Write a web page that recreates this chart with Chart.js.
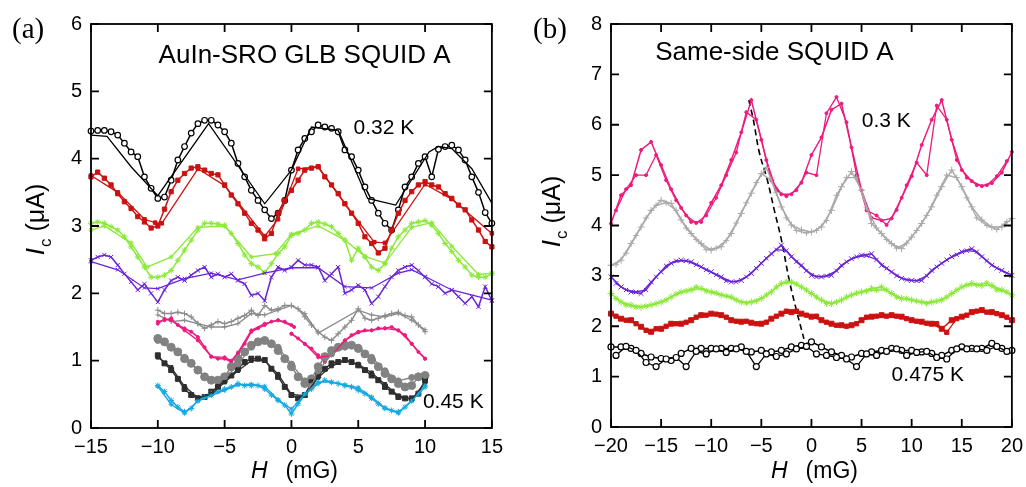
<!DOCTYPE html>
<html>
<head>
<meta charset="utf-8">
<script src="https://cdn.jsdelivr.net/npm/chart.js@4.4.1/dist/chart.umd.min.js"></script>
<style>
  html, body { margin: 0; background: #fff; overflow: hidden; }
  #wrap { position: relative; width: 1026px; height: 487px; overflow: hidden; }
  #chartA { position: absolute; left: 0; top: 0; }
  #chartB { position: absolute; left: 510px; top: 0; }
</style>
</head>
<body>
<div id="wrap">
  <canvas id="chartA" width="510" height="487"></canvas>
  <canvas id="chartB" width="520" height="487"></canvas>
</div>
<script>
// ---- panel (a): field values (mG) ----
const H_A = [-15,-14.5,-14,-13.5,-13,-12.5,-12,-11.5,-11,-10.5,-10,-9.5,-9,-8.5,-8,-7.5,-7,-6.5,-6,-5.5,-5,-4.5,-4,-3.5,-3,-2.5,-2,-1.5,-1,-0.5,0,0.5,1,1.5,2,2.5,3,3.5,4,4.5,5,5.5,6,6.5,7,7.5,8,8.5,9,9.5,10,10.5,11,11.5,12,12.5,13,13.5,14,14.5,15];
const H_A_SHORT = [-10,-9.5,-9,-8.5,-8,-7.5,-7,-6.5,-6,-5.5,-5,-4.5,-4,-3.5,-3,-2.5,-2,-1.5,-1,-0.5,0,0.5,1,1.5,2,2.5,3,3.5,4,4.5,5,5.5,6,6.5,7,7.5,8,8.5,9,9.5,10];
const H_A_INT = [-10,-9,-8,-7,-6,-5,-4,-3,-2,-1,0,1,2,3,4,5,6,7,8,9,10];

// Ic (uA), first sweeps
const A_BLACK = [4.41,4.42,4.42,4.40,4.35,4.23,4.10,4.03,3.73,3.56,3.41,3.43,3.68,3.98,4.18,4.38,4.52,4.57,4.57,4.50,4.40,4.23,3.93,3.73,3.53,3.38,3.24,3.11,3.19,3.38,3.83,4.13,4.30,4.40,4.50,4.47,4.45,4.40,4.13,4.03,3.83,3.58,3.38,3.19,3.04,2.94,3.24,3.58,3.73,3.93,4.03,3.73,4.14,4.18,4.20,4.13,3.98,3.73,3.50,3.20,3.04];
const A_RED = [3.73,3.80,3.71,3.61,3.48,3.36,3.26,3.14,3.06,2.97,3.00,3.25,3.51,3.68,3.78,3.86,3.88,3.83,3.78,3.76,3.61,3.46,3.33,3.19,3.04,2.94,2.81,2.89,3.19,3.38,3.53,3.68,3.83,3.86,3.88,3.73,3.61,3.48,3.33,3.19,3.04,2.84,2.74,2.60,2.67,2.94,3.19,3.38,3.51,3.61,3.66,3.61,3.58,3.48,3.41,3.31,3.24,3.09,2.94,2.77,2.69];
const A_GREEN = [3.04,3.06,3.04,2.99,2.94,2.84,2.69,2.54,2.39,2.24,2.24,2.27,2.34,2.49,2.64,2.79,2.94,3.04,3.04,3.03,3.01,2.89,2.74,2.57,2.44,2.39,2.31,2.44,2.59,2.69,2.86,2.89,2.94,3.04,3.06,3.03,2.99,2.89,2.79,2.49,2.67,2.54,2.39,2.34,2.44,2.67,2.84,2.94,3.04,3.06,3.08,3.01,2.89,2.74,2.62,2.49,2.39,2.27,2.24,2.24,2.29];
const A_PURPLE = [2.49,2.54,2.57,2.54,2.42,2.29,2.17,2.05,2.14,2.00,1.87,2.05,2.19,2.24,2.19,2.27,2.34,2.39,2.24,2.29,2.24,2.29,2.19,2.14,1.97,2.00,1.89,2.24,2.39,2.34,2.39,2.49,2.42,2.42,2.39,2.19,2.29,2.39,2.00,2.05,2.12,2.05,1.85,1.95,2.10,2.24,2.34,2.39,2.42,2.34,2.24,2.14,2.10,2.00,2.05,1.95,1.85,1.95,1.80,2.10,1.89];
const A_GRAY1 = [1.75,1.70,1.70,1.72,1.70,1.65,1.55,1.48,1.53,1.58,1.55,1.58,1.63,1.67,1.75,1.67,1.82,1.75,1.77,1.82,1.82,1.77,1.65,1.53,1.43,1.35,1.30,1.40,1.50,1.60,1.77,1.63,1.60,1.63,1.67,1.70,1.72,1.67,1.65,1.53,1.43];
const A_PINK_L = [1.58,1.60,1.63,1.53,1.48,1.43,1.35,1.20,1.06,1.03,1.03,0.98,1.10,1.25,1.43,1.48,1.53,1.58,1.60,1.58,1.53];
const A_PINK_R = [1.40,1.33,1.25,1.18,1.08,0.98,1.10,1.20,1.30,1.38,1.43,1.45,1.45,1.48,1.48,1.50,1.45,1.38,1.25,1.13,1.03];
const A_GRAY2 = [1.33,1.28,1.20,1.13,1.03,0.96,0.86,0.76,0.71,0.71,0.76,0.91,1.03,1.13,1.23,1.28,1.30,1.25,1.15,1.03,0.91,0.76,0.66,0.73,0.91,1.06,1.15,1.20,1.23,1.23,1.18,1.10,1.01,0.91,0.81,0.73,0.66,0.61,0.63,0.76,0.78];
const A_DARK = [1.08,0.96,0.86,0.73,0.58,0.49,0.44,0.46,0.54,0.61,0.71,0.78,0.88,0.98,1.03,1.03,1.01,0.88,0.76,0.61,0.49,0.44,0.49,0.68,0.78,0.88,0.96,0.98,1.01,0.98,0.93,0.86,0.78,0.71,0.61,0.54,0.46,0.44,0.44,0.51,0.71];
const A_CYAN = [0.63,0.54,0.41,0.31,0.24,0.29,0.41,0.46,0.51,0.54,0.58,0.61,0.66,0.63,0.63,0.63,0.58,0.49,0.41,0.34,0.21,0.36,0.49,0.58,0.66,0.71,0.68,0.66,0.63,0.61,0.56,0.51,0.44,0.36,0.29,0.26,0.24,0.31,0.41,0.51,0.61];

// second sweeps (sparser)
const A_BLACK2_H = [-15,-13.8,-12,-10,-6.2,-2,0,1.5,3.5,5.7,7.8,10.3,11,12,13.5,15];
const A_BLACK2 = [4.35,4.33,3.88,3.45,4.52,3.33,3.83,4.47,4.42,3.41,3.31,4.10,4.18,4.15,3.85,3.34];
const A_RED2_H = [-15,-13,-11,-10.2,-9.7,-7,-5,-2,-1,0.5,2,4,6.2,7,10,12,15];
const A_RED2 = [3.75,3.50,3.10,3.05,3.04,3.85,3.60,2.85,3.10,3.85,3.88,3.33,2.76,2.75,3.62,3.40,2.89];
const A_GREEN2_H = [-15,-14,-12,-10.8,-9,-7,-5,-3,-1.2,0,2,4,5.5,7,9,10.5,12,14,15];
const A_GREEN2 = [2.94,3.00,2.75,2.39,2.54,2.98,3.00,2.54,2.59,2.88,3.00,2.79,2.55,2.45,2.98,3.05,2.70,2.28,2.30];
const A_PURPLE2_H = [-15,-13,-11,-10,-8,-6,-4,-2,0,2,4,6,8,9,10,12,15];
const A_PURPLE2 = [2.47,2.35,2.08,2.07,2.22,2.30,2.20,2.30,2.38,2.38,2.10,2.08,2.30,2.35,2.25,2.05,1.90];
const A_GRAY1_2_H = [-10,-9,-8,-7,-6,-5,-4,-3,-2,-1,0,1,2,5,6,7,8,9,10];
const A_GRAY1_2 = [1.68,1.58,1.60,1.55,1.50,1.50,1.55,1.70,1.68,1.75,1.82,1.70,1.41,1.75,1.68,1.65,1.70,1.60,1.46];
const A_PINK2L_H = [-10,-9.5,-9,-8,-7,-6,-5,-4.5,-4,-3,-2,-1,0.2];
const A_PINK2L = [1.55,1.62,1.60,1.45,1.30,1.06,1.05,1.00,1.12,1.45,1.55,1.60,1.50];
const A_PINK2R_H = [0,1,2,3,4,5,6,7,8,9,10];
const A_PINK2R = [1.40,1.25,1.05,1.08,1.30,1.42,1.45,1.48,1.45,1.25,1.03];
const A_GRAY2_2_H = [-10,-8,-7,-6,-5,-4,-3,-2,-1,0,1,1.5,2,3,4,5,6,7,8,9,10];
const A_GRAY2_2 = [1.30,1.05,0.85,0.72,0.72,0.95,1.20,1.30,1.20,0.95,0.70,0.62,0.85,1.10,1.20,1.20,1.05,0.85,0.70,0.75,0.78];
const A_DARK2 = [1.05,0.90,0.62,0.45,0.50,0.68,0.85,1.00,1.00,0.80,0.50,0.48,0.75,0.92,1.00,0.95,0.82,0.65,0.48,0.42,0.68];
const A_CYAN2 = [0.62,0.35,0.22,0.40,0.48,0.56,0.64,0.65,0.62,0.42,0.28,0.50,0.68,0.68,0.64,0.60,0.46,0.30,0.22,0.40,0.63];

// ---- panel (b) ----
const H_B = [-20,-19,-18,-17,-16,-15,-14,-13,-12,-11,-10,-9,-8,-7,-6,-5,-4,-3,-2,-1,0,1,2,3,4,5,6,7,8,9,10,11,12,13,14,15,16,17,18,19,20];
const H_B_HALF = [-19.5,-18.5,-17.5,-16.5,-15.5,-14.5,-13.5,-12.5,-11.5,-10.5,-9.5,-8.5,-7.5,-6.5,-5.5,-4.5,-3.5,-2.5,-1.5,-0.5,0.5,1.5,2.5,3.5,4.5,5.5,6.5,7.5,8.5,9.5,10.5,11.5,12.5,13.5,14.5,15.5,16.5,17.5,18.5,19.5];

const B_PINK = [4.04,4.60,4.80,5.50,5.66,5.20,4.72,4.35,4.07,4.07,4.45,4.80,5.30,5.85,6.49,5.70,4.90,4.62,4.62,4.85,5.40,5.75,6.30,6.42,5.55,4.70,4.15,4.10,4.14,4.55,4.98,5.60,6.10,6.49,5.70,5.10,4.88,4.78,4.84,5.05,5.46];
const B_PINK2 = [4.30,4.72,5.00,5.00,5.40,4.90,4.50,4.20,4.05,4.20,4.55,5.00,5.45,6.25,6.10,5.30,4.70,4.58,4.70,5.05,5.00,6.23,6.55,6.05,5.00,4.30,4.20,4.01,4.31,4.80,5.25,5.00,6.38,6.10,5.30,4.95,4.80,4.80,4.98,5.28];
const B_GRAY = [3.21,3.31,3.64,3.97,4.30,4.50,4.44,4.11,3.84,3.64,3.51,3.58,3.84,4.24,4.64,5.03,4.90,4.37,4.01,3.91,3.87,3.97,4.30,4.77,5.07,4.70,4.04,3.84,3.64,3.54,3.77,4.04,4.37,4.77,5.10,4.77,4.37,4.11,3.97,3.97,4.14];
const B_GRAY2 = [3.22,3.45,3.80,4.15,4.40,4.45,4.30,3.95,3.72,3.52,3.55,3.70,4.05,4.45,4.85,5.15,4.65,4.15,3.90,3.85,3.90,4.10,4.60,4.95,4.95,4.35,3.95,3.72,3.55,3.65,3.90,4.20,4.60,5.00,4.95,4.55,4.15,4.00,3.92,4.08];
const B_PURPLE = [2.98,2.78,2.68,2.65,2.88,3.08,3.25,3.31,3.28,3.18,3.08,2.98,2.88,2.91,3.05,3.25,3.44,3.61,3.38,3.21,3.01,2.98,3.01,3.21,3.34,3.41,3.44,3.21,3.08,2.95,2.91,2.91,3.11,3.25,3.38,3.48,3.54,3.38,3.21,3.11,3.01];
const B_PURPLE2 = [2.85,2.72,2.68,2.72,2.98,3.20,3.30,3.30,3.22,3.12,3.02,2.90,2.88,2.98,3.15,3.35,3.52,3.50,3.28,3.10,2.98,3.00,3.10,3.28,3.38,3.40,3.32,3.15,3.00,2.92,2.90,3.00,3.18,3.32,3.42,3.50,3.48,3.30,3.15,3.05];
const B_GREEN = [2.65,2.48,2.42,2.38,2.42,2.48,2.58,2.68,2.72,2.75,2.68,2.62,2.58,2.48,2.48,2.55,2.68,2.85,2.88,2.78,2.65,2.52,2.45,2.52,2.62,2.68,2.75,2.78,2.65,2.55,2.52,2.48,2.48,2.52,2.65,2.78,2.85,2.81,2.81,2.72,2.62];
const B_GREEN2 = [2.55,2.42,2.38,2.40,2.45,2.52,2.64,2.70,2.78,2.70,2.66,2.60,2.52,2.46,2.50,2.62,2.78,2.88,2.84,2.72,2.58,2.45,2.48,2.58,2.66,2.70,2.72,2.72,2.58,2.55,2.50,2.45,2.50,2.58,2.72,2.82,2.82,2.86,2.72,2.68];
const B_RED = [2.25,2.15,2.12,1.99,1.89,1.95,2.05,2.05,2.12,2.22,2.25,2.22,2.12,2.09,2.07,2.05,2.15,2.25,2.28,2.25,2.19,2.12,2.05,2.02,2.02,2.12,2.19,2.22,2.22,2.19,2.12,2.09,2.05,1.95,2.12,2.19,2.28,2.32,2.28,2.22,2.12];
const B_RED2 = [2.20,2.12,2.05,1.92,1.95,2.00,2.05,2.08,2.18,2.22,2.24,2.18,2.10,2.10,2.05,2.08,2.20,2.30,2.30,2.22,2.20,2.08,2.02,2.00,2.05,2.18,2.20,2.20,2.20,2.15,2.10,2.06,2.05,1.88,2.15,2.22,2.30,2.28,2.25,2.18];
const B_BLACK = [1.59,1.59,1.56,1.46,1.39,1.36,1.32,1.46,1.56,1.56,1.56,1.56,1.56,1.59,1.49,1.52,1.49,1.52,1.59,1.62,1.69,1.59,1.49,1.42,1.39,1.46,1.49,1.52,1.56,1.52,1.52,1.49,1.46,1.42,1.52,1.59,1.56,1.56,1.66,1.56,1.52];
const B_BLACK2 = [1.42,1.60,1.52,1.28,1.20,1.35,1.38,1.20,1.50,1.45,1.55,1.48,1.55,1.50,1.20,1.45,1.40,1.45,1.55,1.60,1.45,1.42,1.38,1.35,1.20,1.45,1.42,1.50,1.55,1.42,1.48,1.50,1.38,1.35,1.55,1.55,1.55,1.52,1.60,1.50];

// dashed guide through the peaks
const DASH_H = [-6.25,-5.8,-5.2,-4.4,-3.7,-3.0,-2.2,-1.5,-0.75];
const DASH_V = [6.49,6.10,5.45,4.90,4.30,3.72,2.90,2.32,1.75];

const FONT = "'Liberation Sans', Arial, Helvetica, sans-serif";
const SERIF = "'Liberation Serif', 'Times New Roman', serif";

function pts(h, v) {
  return h.map((x, i) => ({ x: x, y: v[i] }));
}

function line(h, v, color, style, r, extra) {
  return Object.assign({
    data: pts(h, v),
    borderColor: color,
    backgroundColor: color,
    pointBorderColor: color,
    pointBackgroundColor: color,
    pointStyle: style,
    pointRadius: r,
    pointBorderWidth: 1,
    borderWidth: 1.5,
    tension: 0,
    clip: false
  }, extra || {});
}

const openCircle = { pointBackgroundColor: '#fff', pointBorderWidth: 1.2 };

// frame with inward ticks, titles and notes
function decorPlugin(cfg) {
  return {
    id: 'decor' + cfg.key,
    afterDatasetsDraw(chart) {
      const ctx = chart.ctx, a = chart.chartArea;
      const x = chart.scales.x, y = chart.scales.y;
      ctx.save();
      ctx.strokeStyle = '#000';
      ctx.lineWidth = 1.8;
      ctx.strokeRect(a.left, a.top, a.right - a.left, a.bottom - a.top);
      ctx.beginPath();
      y.ticks.forEach(t => {
        const py = y.getPixelForValue(t.value);
        ctx.moveTo(a.left, py); ctx.lineTo(a.left + 8, py);
        ctx.moveTo(a.right, py); ctx.lineTo(a.right - 8, py);
      });
      x.ticks.forEach(t => {
        const px = x.getPixelForValue(t.value);
        ctx.moveTo(px, a.bottom); ctx.lineTo(px, a.bottom - 8);
        ctx.moveTo(px, a.top); ctx.lineTo(px, a.top + 8);
      });
      ctx.stroke();

      ctx.fillStyle = '#000';
      ctx.textBaseline = 'middle';
      ctx.textAlign = 'left';
      ctx.font = '26px ' + FONT;
      ctx.fillText(cfg.title.text, x.getPixelForValue(cfg.title.h), y.getPixelForValue(cfg.title.v));
      ctx.font = '21px ' + FONT;
      cfg.notes.forEach(n => ctx.fillText(n.text, x.getPixelForValue(n.h), y.getPixelForValue(n.v)));

      // panel letter
      ctx.textBaseline = 'alphabetic';
      ctx.font = '29px ' + SERIF;
      ctx.fillText(cfg.letter, cfg.letterX, 38);

      // x title: H (mG)
      const gap = 18;
      ctx.font = 'italic 23px ' + FONT;
      const wH = ctx.measureText('H').width;
      ctx.font = '23px ' + FONT;
      const wR = ctx.measureText('(mG)').width;
      const sx = (a.left + a.right) / 2 + 3 - (wH + gap + wR) / 2;
      ctx.font = 'italic 23px ' + FONT;
      ctx.fillText('H', sx, 478);
      ctx.font = '23px ' + FONT;
      ctx.fillText('(mG)', sx + wH + gap, 478);

      // y title: Ic (uA)
      ctx.translate(a.left - cfg.yTitleOff, cfg.yTitleY);
      ctx.rotate(-Math.PI / 2);
      ctx.font = 'italic 26px ' + FONT;
      const wI = ctx.measureText('I').width;
      ctx.font = '17px ' + FONT;
      const wc = ctx.measureText('c').width;
      ctx.font = '25px ' + FONT;
      const wu = ctx.measureText('(\u03BCA)').width;
      const g2 = 7;
      let tx = -(wI + wc + g2 + wu) / 2;
      ctx.font = 'italic 26px ' + FONT;
      ctx.fillText('I', tx, 0);
      tx += wI + 1;
      ctx.font = '17px ' + FONT;
      ctx.fillText('c', tx, 7);
      tx += wc + g2;
      ctx.font = '25px ' + FONT;
      ctx.fillText('(\u03BCA)', tx, 0);
      ctx.restore();
    }
  };
}

function scalesFor(xmin, xmax, ymax, yWidth, xHeight) {
  const tickFont = { family: FONT, size: 20 };
  return {
    x: {
      type: 'linear', min: xmin, max: xmax,
      grid: { display: false, drawTicks: false },
      border: { display: false },
      ticks: {
        stepSize: 5, autoSkip: false, maxRotation: 0, padding: 7,
        color: '#000', font: tickFont,
        callback: v => String(v).replace('-', '\u2212')
      },
      afterFit: s => { s.height = xHeight; }
    },
    y: {
      min: 0, max: ymax,
      grid: { display: false, drawTicks: false },
      border: { display: false },
      ticks: { stepSize: 1, autoSkip: false, padding: 9, color: '#000', font: tickFont },
      afterFit: s => { s.width = yWidth; }
    }
  };
}

const baseOpts = {
  responsive: false,
  animation: false,
  events: [],
  plugins: { legend: { display: false }, tooltip: { enabled: false } }
};

// colours
const C_BLACK = '#000000', C_RED = '#cc1111', C_GREEN = '#8ce83a', C_PURPLE = '#6a24d6';
const C_GRAY1 = '#8c8c8c', C_PINK = '#ee1a7e', C_GRAY2 = '#828282', C_DARK = '#2e2e2e', C_CYAN = '#15a8e0';
const C_GRAYB = '#a9a9a9';

const thin = { borderWidth: 1.3 };

new Chart(document.getElementById('chartA'), {
  type: 'line',
  data: {
    datasets: [
      line(H_A_INT, A_CYAN2, C_CYAN, 'star', 2.5, thin),
      line(H_A_INT, A_DARK2, C_DARK, 'rect', 2.5, thin),
      line(A_GRAY2_2_H, A_GRAY2_2, C_GRAY2, 'circle', 3, thin),
      line(A_PINK2L_H, A_PINK2L, C_PINK, 'circle', 1.5, thin),
      line(A_PINK2R_H, A_PINK2R, C_PINK, 'circle', 1.5, thin),
      line(A_GRAY1_2_H, A_GRAY1_2, C_GRAY1, 'cross', 2.5, thin),
      line(A_PURPLE2_H, A_PURPLE2, C_PURPLE, 'crossRot', 2.5, thin),
      line(A_GREEN2_H, A_GREEN2, C_GREEN, 'star', 2.5, thin),
      line(A_RED2_H, A_RED2, C_RED, 'rect', 2.5, thin),
      line(A_BLACK2_H, A_BLACK2, C_BLACK, 'circle', 0, thin),
      line(H_A_SHORT, A_CYAN, C_CYAN, 'star', 3),
      line(H_A_SHORT, A_DARK, C_DARK, 'rect', 3.5),
      line(H_A_SHORT, A_GRAY2, C_GRAY2, 'circle', 4),
      line(H_A_SHORT.slice(0, 21), A_PINK_L, C_PINK, 'circle', 1.5),
      line(H_A_SHORT.slice(20), A_PINK_R, C_PINK, 'circle', 1.5),
      line(H_A_SHORT, A_GRAY1, C_GRAY1, 'cross', 3),
      line(H_A, A_PURPLE, C_PURPLE, 'crossRot', 3),
      line(H_A, A_GREEN, C_GREEN, 'star', 3),
      line(H_A, A_RED, C_RED, 'rect', 3),
      line(H_A, A_BLACK, C_BLACK, 'circle', 2.8, openCircle)
    ]
  },
  options: Object.assign({}, baseOpts, {
    layout: { padding: { left: 0, top: 24, right: 14, bottom: 0 } },
    scales: scalesFor(-15, 15, 6, 91, 59)
  }),
  plugins: [decorPlugin({
    key: 'A', letter: '(a)', letterX: 12, yTitleOff: 47, yTitleY: 220,
    title: { text: 'AuIn-SRO GLB SQUID A', h: -9.94, v: 5.53 },
    notes: [{ text: '0.32 K', h: 4.65, v: 4.45 }, { text: '0.45 K', h: 9.84, v: 0.38 }]
  })]
});

new Chart(document.getElementById('chartB'), {
  type: 'line',
  data: {
    datasets: [
      line(H_B_HALF, B_BLACK2, C_BLACK, 'circle', 3, Object.assign({}, openCircle, thin)),
      line(H_B_HALF, B_RED2, C_RED, 'rect', 3, thin),
      line(H_B_HALF, B_GREEN2, C_GREEN, 'star', 3, thin),
      line(H_B_HALF, B_PURPLE2, C_PURPLE, 'crossRot', 3, thin),
      line(H_B_HALF, B_GRAY2, C_GRAYB, 'cross', 3, thin),
      line(H_B_HALF, B_PINK2, C_PINK, 'circle', 1.5, thin),
      line(H_B, B_BLACK, C_BLACK, 'circle', 3, openCircle),
      line(H_B, B_RED, C_RED, 'rect', 3.5),
      line(H_B, B_GREEN, C_GREEN, 'star', 3.5),
      line(H_B, B_PURPLE, C_PURPLE, 'crossRot', 3.5),
      line(H_B, B_GRAY, C_GRAYB, 'cross', 3.5),
      line(H_B, B_PINK, C_PINK, 'circle', 1.5),
      line(DASH_H, DASH_V, C_BLACK, 'circle', 0, { borderDash: [6, 4], borderWidth: 1.6, tension: 0.4 })
    ]
  },
  options: Object.assign({}, baseOpts, {
    layout: { padding: { left: 0, top: 24, right: 14, bottom: 0 } },
    scales: scalesFor(-20, 20, 8, 101, 60)
  }),
  plugins: [decorPlugin({
    key: 'B', letter: '(b)', letterX: 23, yTitleOff: 51, yTitleY: 212,
    title: { text: 'Same-side SQUID A', h: -15.59, v: 7.42 },
    notes: [{ text: '0.3 K', h: 5.02, v: 6.07 }, { text: '0.475 K', h: 8.0, v: 1.03 }]
  })]
});
</script>
</body>
</html>
